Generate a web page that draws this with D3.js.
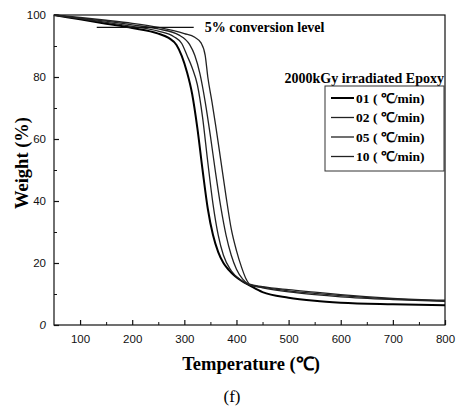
<!DOCTYPE html>
<html>
<head>
<meta charset="utf-8">
<script src="https://cdn.jsdelivr.net/npm/d3@7"></script>
<style>
body { margin: 0; background: #fff; }
svg { display: block; }
</style>
</head>
<body>
<svg width="464" height="412"></svg>
<script>
// data
var t01 = [50, 100, 150, 200, 250, 270, 285, 295, 305, 315, 325, 335, 345, 355, 365, 375, 385, 397, 410, 425, 450, 500, 550, 600, 700, 800];
var w01 = [100, 98.6, 97.2, 95.8, 94, 92.6, 90.3, 86.8, 81.6, 74.5, 63.5, 50, 37.5, 29, 23.5, 20, 17.8, 15.8, 14.2, 12.8, 10.6, 8.8, 7.8, 7.2, 6.7, 6.4];

var t02 = [50, 100, 150, 200, 250, 280, 295, 305, 315, 325, 335, 345, 355, 365, 375, 390, 410, 425, 450, 500, 550, 600, 700, 800];
var w02 = [100, 98.8, 97.6, 96.3, 94.8, 93, 90.8, 87, 83, 77.5, 67, 52.5, 39, 29, 22.5, 17.5, 14.3, 12.9, 12, 10.7, 9.8, 9.1, 8.2, 7.6];

var t05 = [50, 100, 150, 200, 250, 290, 310, 320, 330, 340, 350, 360, 370, 380, 390, 400, 412, 425, 450, 500, 550, 600, 700, 800];
var w05 = [100, 99, 98, 96.8, 95.5, 93.5, 90.5, 87, 81, 72, 61, 49, 38, 29, 22.5, 18, 14.8, 13, 12.2, 11, 10.2, 9.5, 8.4, 7.8];

var t10 = [50, 100, 150, 200, 250, 300, 320, 332, 340, 345, 353, 360, 370, 380, 390, 400, 410, 418, 425, 450, 500, 550, 600, 700, 800];
var w10 = [100, 99.2, 98.3, 97.3, 96, 94, 92.8, 91, 87, 80, 72, 64.5, 53, 41.5, 31, 24, 18.5, 15, 13.2, 12.4, 11.4, 10.6, 9.8, 8.6, 8.0];

var seriesNames = ["01 ( \u2103/min)", "02 ( \u2103/min)", "05 ( \u2103/min)", "10 ( \u2103/min)"];
var xTicks = [100, 200, 300, 400, 500, 600, 700, 800];
var yTicks = [0, 20, 40, 60, 80, 100];

// 5% conversion marker line
var convT = [132, 318];
var convW = 96;

var svg = d3.select("svg");
var margin = {left: 54, top: 15, right: 19, bottom: 87};
var width = 464 - margin.left - margin.right,
    height = 412 - margin.top - margin.bottom;

var x = d3.scaleLinear().domain([50, 800]).range([0, width]);
var y = d3.scaleLinear().domain([0, 100]).range([height, 0]);

var g = svg.append("g").attr("transform", "translate(" + margin.left + "," + margin.top + ")");

// frame
g.append("rect")
  .attr("width", width).attr("height", height)
  .attr("fill", "none").attr("stroke", "#111").attr("stroke-width", 1.2);

// axes, ticks inward
var xAxis = d3.axisBottom(x).tickValues(xTicks).tickSize(-5).tickPadding(10);
var yAxis = d3.axisLeft(y).tickValues(yTicks).tickSize(-5).tickPadding(8);

var gx = g.append("g").attr("transform", "translate(0," + height + ")").call(xAxis);
var gy = g.append("g").call(yAxis);
[gx, gy].forEach(function(a) {
  a.select(".domain").remove();
  a.selectAll("line").attr("stroke", "#111").attr("stroke-width", 1.2);
  a.selectAll("text").attr("font-family", "Liberation Sans, Arial, sans-serif")
    .attr("font-size", 11.5).attr("fill", "#111");
});
gy.select(".tick text").attr("font-style", "italic");

// minor ticks
g.append("g").attr("transform", "translate(0," + height + ")")
  .call(d3.axisBottom(x).tickValues(d3.range(150, 800, 100)).tickSize(-3).tickFormat(""))
  .call(a => { a.select(".domain").remove(); a.selectAll("line").attr("stroke", "#111"); });
g.append("g")
  .call(d3.axisLeft(y).tickValues(d3.range(10, 100, 20)).tickSize(-3).tickFormat(""))
  .call(a => { a.select(".domain").remove(); a.selectAll("line").attr("stroke", "#111"); });

// curves
var series = [
  {name: seriesNames[0], t: t01, w: w01, sw: 2},
  {name: seriesNames[1], t: t02, w: w02, sw: 1.3},
  {name: seriesNames[2], t: t05, w: w05, sw: 1.3},
  {name: seriesNames[3], t: t10, w: w10, sw: 1.3}
];

var line = d3.line().x(d => x(d[0])).y(d => y(d[1])).curve(d3.curveMonotoneX);

g.selectAll(".curve")
  .data(series)
  .enter().append("path")
  .attr("class", "curve")
  .attr("fill", "none")
  .attr("stroke", (d, i) => i === 0 ? "#000" : "#222")
  .attr("stroke-width", d => d.sw)
  .attr("d", d => line(d.t.map((v, i) => [v, d.w[i]])));

// 5% conversion level
g.append("line")
  .attr("x1", x(convT[0])).attr("x2", x(convT[1]))
  .attr("y1", y(convW)).attr("y2", y(convW))
  .attr("stroke", "#111").attr("stroke-width", 1.2);
g.append("text")
  .attr("x", x(convT[1]) + 11).attr("y", y(convW) + 4.5)
  .attr("font-family", "Liberation Serif, Times New Roman, serif")
  .attr("font-weight", "bold").attr("font-size", 14)
  .text("5% conversion level");

// legend
g.append("text")
  .attr("x", width - 1).attr("y", 78 - margin.top + 4.5)
  .attr("text-anchor", "end")
  .attr("font-family", "Liberation Serif, Times New Roman, serif")
  .attr("font-weight", "bold").attr("font-size", 14)
  .text("2000kGy irradiated Epoxy");

var legend = g.append("g").attr("transform", "translate(" + (325 - margin.left) + "," + (86 - margin.top) + ")");
legend.append("rect")
  .attr("width", 119).attr("height", 85)
  .attr("fill", "#fff").attr("stroke", "#333").attr("stroke-width", 1);

var rows = legend.selectAll(".row")
  .data(series)
  .enter().append("g")
  .attr("transform", (d, i) => "translate(0," + (12 + i * 19.5) + ")");
rows.append("line")
  .attr("x1", 6).attr("x2", 29)
  .attr("stroke", (d, i) => i === 0 ? "#000" : "#222")
  .attr("stroke-width", d => d.sw);
rows.append("text")
  .attr("x", 31).attr("y", 4.5)
  .attr("font-family", "Liberation Serif, Times New Roman, serif")
  .attr("font-weight", "bold").attr("font-size", 13.5)
  .text(d => d.name);

// axis titles
svg.append("text")
  .attr("x", 251).attr("y", 370)
  .attr("text-anchor", "middle")
  .attr("font-family", "Liberation Serif, Times New Roman, serif")
  .attr("font-weight", "bold").attr("font-size", 18.5)
  .text("Temperature (\u2103)");

svg.append("text")
  .attr("transform", "translate(28,163) rotate(-90)")
  .attr("text-anchor", "middle")
  .attr("font-family", "Liberation Serif, Times New Roman, serif")
  .attr("font-weight", "bold").attr("font-size", 18.5)
  .text("Weight (%)");

svg.append("text")
  .attr("x", 232).attr("y", 402)
  .attr("text-anchor", "middle")
  .attr("font-family", "Liberation Serif, Times New Roman, serif")
  .attr("font-size", 17)
  .text("(f)");
</script>
</body>
</html>
